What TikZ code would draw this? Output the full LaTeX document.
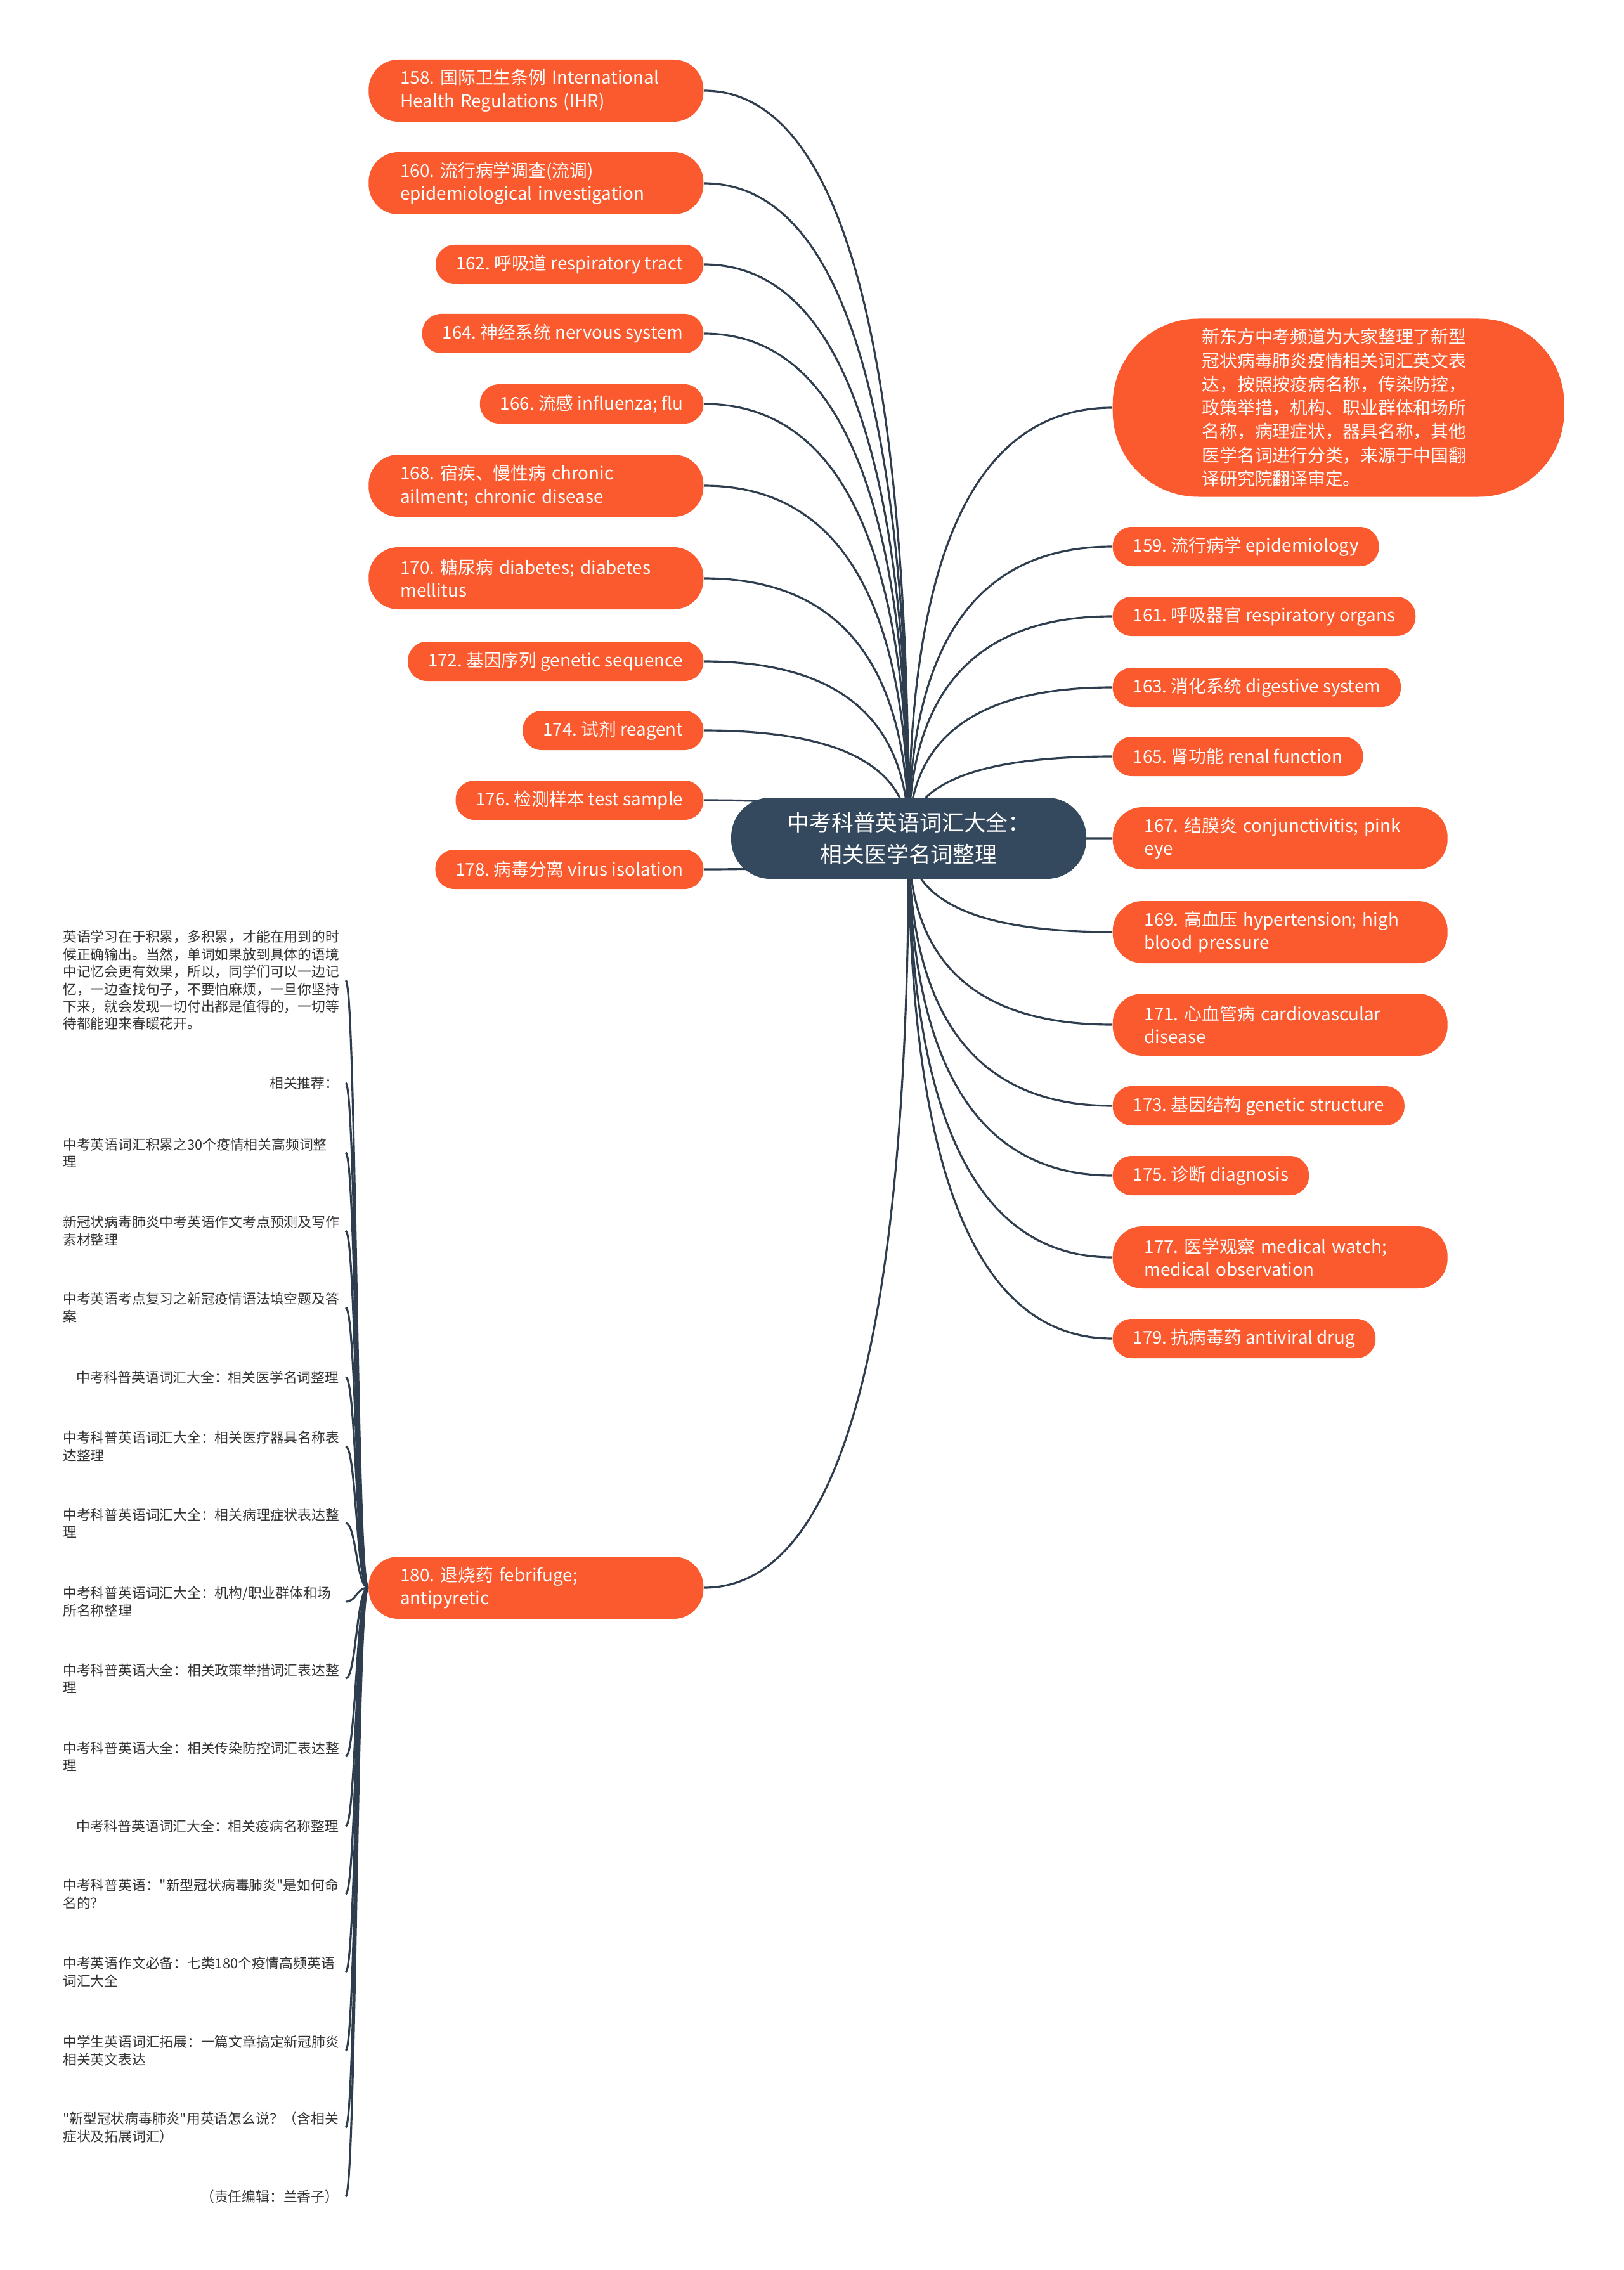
\documentclass[tikz,border=0pt]{standalone}
\usepackage{fontspec}
\usetikzlibrary{calc,backgrounds}
\newfontfamily\cjk{Noto Sans CJK SC}
\definecolor{leafc}{HTML}{FB5A2E}
\definecolor{rootc}{HTML}{35495E}
\definecolor{linkc}{HTML}{2F3E4E}
\definecolor{notec}{HTML}{333333}
\frenchspacing

\begin{document}
\begin{tikzpicture}[
  leaf/.style={fill=leafc,text=white,rounded corners=0.3cm,minimum height=0.62cm,inner xsep=0.32cm,inner ysep=0pt,font=\cjk\fontsize{7.9}{10.4}\selectfont},
  leaf2/.style={leaf,rounded corners=0.47cm,minimum height=0.98cm,inner xsep=0.5cm,text width=4.28cm,align=left},
  note/.style={anchor=east,text=notec,inner xsep=0.1cm,inner ysep=1pt,font=\cjk\fontsize{6.2}{7.8}\selectfont},
  note2/.style={note,text width=4.35cm,align=left},
  limb/.style={draw=linkc,line width=0.9pt,to path={.. controls ($(\tikztostart)!0.667!(\tikztotarget |- \tikztostart)$) and ($(\tikztotarget)!0.667!(\tikztotarget |- \tikztostart)$) .. (\tikztotarget)}},
  twig/.style={draw=linkc,line width=0.9pt,to path={.. controls (trunk |- \tikztostart) and (trunk |- \tikztotarget) .. (\tikztotarget)}}
]
\useasboundingbox (0,0) rectangle (25.6,-35.8);
\coordinate (trunk) at (5.62,0);

% centre
\node[fill=rootc,text=white,rounded corners=0.62cm,minimum width=5.6cm,minimum height=1.28cm,align=center,font=\cjk\fontsize{9.9}{14.3}\selectfont] (wc) at (14.33,-13.22) {中考科普英语词汇大全：\\相关医学名词整理};

% left side
\node[leaf2,anchor=east] (w158) at (11.10,-1.43) {158. 国际卫生条例 International\\Health Regulations (IHR)};
\node[leaf2,anchor=east] (w160) at (11.10,-2.89) {160. 流行病学调查(流调)\\epidemiological investigation};
\node[leaf,anchor=east] (w162) at (11.10,-4.17) {162. 呼吸道 respiratory tract};
\node[leaf,anchor=east] (w164) at (11.10,-5.26) {164. 神经系统 nervous system};
\node[leaf,anchor=east] (w166) at (11.10,-6.37) {166. 流感 influenza; flu};
\node[leaf2,anchor=east] (w168) at (11.10,-7.66) {168. 宿疾、慢性病 chronic\\ailment; chronic disease};
\node[leaf2,anchor=east] (w170) at (11.10,-9.12) {170. 糖尿病 diabetes; diabetes\\mellitus};
\node[leaf,anchor=east] (w172) at (11.10,-10.43) {172. 基因序列 genetic sequence};
\node[leaf,anchor=east] (w174) at (11.10,-11.52) {174. 试剂 reagent};
\node[leaf,anchor=east] (w176) at (11.10,-12.62) {176. 检测样本 test sample};
\node[leaf,anchor=east] (w178) at (11.10,-13.71) {178. 病毒分离 virus isolation};
\node[leaf2,anchor=east] (w180) at (11.10,-25.04) {180. 退烧药 febrifuge;\\antipyretic};

% right side
\node[fill=leafc,text=white,rounded corners=1.35cm,anchor=west,minimum height=2.81cm,inner xsep=1.41cm,text width=4.3cm,align=left,font=\cjk\fontsize{7.9}{10.6}\selectfont] (wd) at (17.54,-6.43) {新东方中考频道为大家整理了新型\\冠状病毒肺炎疫情相关词汇英文表\\达，按照按疫病名称，传染防控，\\政策举措，机构、职业群体和场所\\名称，病理症状，器具名称，其他\\医学名词进行分类，来源于中国翻\\译研究院翻译审定。};
\node[leaf,anchor=west] (w159) at (17.54,-8.62) {159. 流行病学 epidemiology};
\node[leaf,anchor=west] (w161) at (17.54,-9.72) {161. 呼吸器官 respiratory organs};
\node[leaf,anchor=west] (w163) at (17.54,-10.84) {163. 消化系统 digestive system};
\node[leaf,anchor=west] (w165) at (17.54,-11.93) {165. 肾功能 renal function};
\node[leaf2,anchor=west] (w167) at (17.54,-13.22) {167. 结膜炎 conjunctivitis; pink\\eye};
\node[leaf2,anchor=west] (w169) at (17.54,-14.70) {169. 高血压 hypertension; high\\blood pressure};
\node[leaf2,anchor=west] (w171) at (17.54,-16.16) {171. 心血管病 cardiovascular\\disease};
\node[leaf,anchor=west] (w173) at (17.54,-17.44) {173. 基因结构 genetic structure};
\node[leaf,anchor=west] (w175) at (17.54,-18.54) {175. 诊断 diagnosis};
\node[leaf2,anchor=west] (w177) at (17.54,-19.83) {177. 医学观察 medical watch;\\medical observation};
\node[leaf,anchor=west] (w179) at (17.54,-21.11) {179. 抗病毒药 antiviral drug};

% notes under 180
\node[note2] (s1) at (5.45,-15.46) {英语学习在于积累，多积累，才能在用到的时\\候正确输出。当然，单词如果放到具体的语境\\中记忆会更有效果，所以，同学们可以一边记\\忆，一边查找句子，不要怕麻烦，一旦你坚持\\下来，就会发现一切付出都是值得的，一切等\\待都能迎来春暖花开。};
\node[note] (s2) at (5.45,-17.08) {相关推荐：};
\node[note2] (s3) at (5.45,-18.18) {中考英语词汇积累之30个疫情相关高频词整\\理};
\node[note2] (s4) at (5.45,-19.41) {新冠状病毒肺炎中考英语作文考点预测及写作\\素材整理};
\node[note2] (s5) at (5.45,-20.62) {中考英语考点复习之新冠疫情语法填空题及答\\案};
\node[note] (s6) at (5.45,-21.72) {中考科普英语词汇大全：相关医学名词整理};
\node[note2] (s7) at (5.45,-22.81) {中考科普英语词汇大全：相关医疗器具名称表\\达整理};
\node[note2] (s8) at (5.45,-24.02) {中考科普英语词汇大全：相关病理症状表达整\\理};
\node[note2] (s9) at (5.45,-25.26) {中考科普英语词汇大全：机构/职业群体和场\\所名称整理};
\node[note2] (s10) at (5.45,-26.47) {中考科普英语大全：相关政策举措词汇表达整\\理};
\node[note2] (s11) at (5.45,-27.70) {中考科普英语大全：相关传染防控词汇表达整\\理};
\node[note] (s12) at (5.45,-28.80) {中考科普英语词汇大全：相关疫病名称整理};
\node[note2] (s13) at (5.45,-29.87) {中考科普英语："新型冠状病毒肺炎"是如何命\\名的？};
\node[note2] (s14) at (5.45,-31.10) {中考英语作文必备：七类180个疫情高频英语\\词汇大全};
\node[note2] (s15) at (5.45,-32.34) {中学生英语词汇拓展：一篇文章搞定新冠肺炎\\相关英文表达};
\node[note2] (s16) at (5.45,-33.55) {"新型冠状病毒肺炎"用英语怎么说？（含相关\\症状及拓展词汇）};
\node[note] (s17) at (5.45,-34.64) {（责任编辑：兰香子）};

\begin{scope}[on background layer]
\fill[white] (0,0) rectangle (25.6,-35.8);
\draw[limb] (w158.east) to (wc.center);
\draw[limb] (w160.east) to (wc.center);
\draw[limb] (w162.east) to (wc.center);
\draw[limb] (w164.east) to (wc.center);
\draw[limb] (w166.east) to (wc.center);
\draw[limb] (w168.east) to (wc.center);
\draw[limb] (w170.east) to (wc.center);
\draw[limb] (w172.east) to (wc.center);
\draw[limb] (w174.east) to (wc.center);
\draw[limb] (w176.east) to (wc.center);
\draw[limb] (w178.east) to (wc.center);
\draw[limb] (w180.east) to (wc.center);
\draw[limb] (wd.west) to (wc.center);
\draw[limb] (w159.west) to (wc.center);
\draw[limb] (w161.west) to (wc.center);
\draw[limb] (w163.west) to (wc.center);
\draw[limb] (w165.west) to (wc.center);
\draw[limb] (w167.west) to (wc.center);
\draw[limb] (w169.west) to (wc.center);
\draw[limb] (w171.west) to (wc.center);
\draw[limb] (w173.west) to (wc.center);
\draw[limb] (w175.west) to (wc.center);
\draw[limb] (w177.west) to (wc.center);
\draw[limb] (w179.west) to (wc.center);
\foreach \i in {1,...,17}
  \draw[twig] (w180.west) to (s\i.east);
\end{scope}
\end{tikzpicture}
\end{document}
